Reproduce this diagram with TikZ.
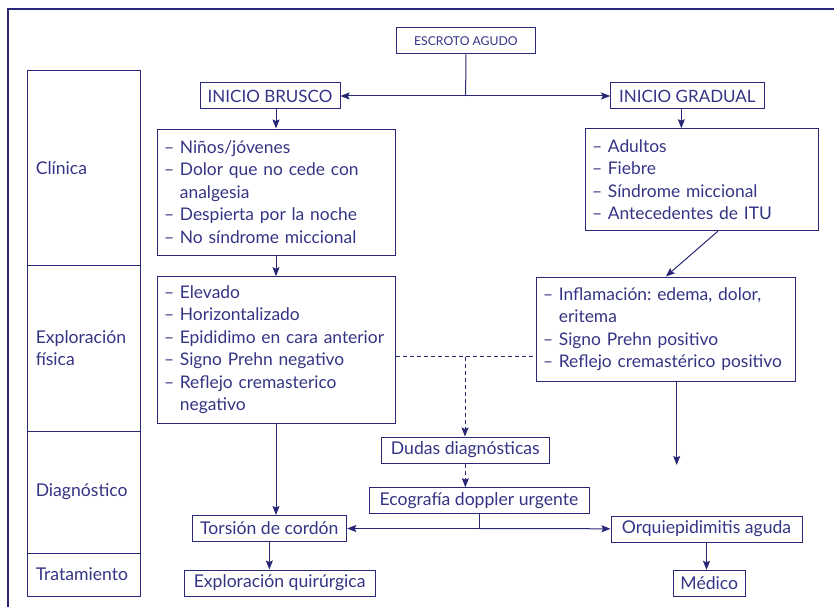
\documentclass[tikz,border=0pt]{standalone}
\usepackage{fontspec}
\setmainfont{Lato}
\usepackage{tikz}
\usetikzlibrary{arrows.meta, calc}
\frenchspacing
\definecolor{mynavy}{RGB}{40,40,118}
\definecolor{mytext}{RGB}{52,52,132}
\tikzset{
  box/.style={rectangle, draw=mynavy, text=mytext, line width=1pt,
    inner sep=0pt, align=center, minimum height=26pt,
    font=\fontsize{17.6}{20}\selectfont},
  bigbox/.style={box, font=\fontsize{17}{22}\selectfont},
  smallbox/.style={box, font=\fontsize{12.2}{15}\selectfont},
  listbox/.style={box, align=left, inner xsep=7pt,
    font=\fontsize{17.4}{22.5}\selectfont},
  rowbox/.style={rectangle, draw=mynavy, text=mytext, line width=1pt,
    minimum width=112.5pt, text width=96pt, inner xsep=8.25pt,
    align=left, font=\fontsize{17.6}{22.5}\selectfont},
  frame/.style={draw=mynavy, line width=2.6pt},
  arrow/.style={-{Stealth[length=9pt, width=7pt, inset=1.5pt]}, line width=1pt, color=mynavy},
  line/.style={line width=1pt, color=mynavy},
  dashline/.style={line, dash pattern=on 4pt off 3pt},
  dasharrow/.style={arrow, dash pattern=on 4pt off 3pt}
}
\newcommand{\hang}{\phantom{– }}
\begin{document}
\begin{tikzpicture}[x=1pt, y=-1pt]
  \useasboundingbox (0,0) rectangle (834,607);
  \draw[frame] (834,9) -- (8,9) -- (8,607);

  % left column
  \node[rowbox, minimum height=194pt] (clinica) at (83.75,168) {Clínica};
  \node[rowbox, minimum height=166pt] (explora) at (83.75,348) {Exploración\\física};
  \node[rowbox, minimum height=122pt] (diagno) at (83.75,492) {Diagnóstico};
  \node[rowbox, minimum height=43pt] (trata) at (83.75,574.5) {Tratamiento};

  % top
  \node[smallbox, minimum width=139.7pt] (escroto) at (465.85,41) {ESCROTO AGUDO};
  \node[bigbox, minimum width=140pt] (brusco) at (270,96) {INICIO BRUSCO};
  \node[bigbox, minimum width=153.3pt] (gradual) at (687.35,96) {INICIO GRADUAL};
  \coordinate (esplit) at (465.7,96);

  % clinica
  \node[listbox, text width=224pt, minimum height=126pt] (clinL) at (276,192)
    {– Niños/jóvenes\\– Dolor que no cede con\\\hang analgesia\\– Despierta por la noche\\– No síndrome miccional};
  \node[listbox, text width=219.7pt, minimum height=102pt] (clinR) at (701.85,179.7)
    {– Adultos\\– Fiebre\\– Síndrome miccional\\– Antecedentes de ITU};

  % exploracion
  \node[listbox, text width=224pt, minimum height=146.3pt] (explL) at (276,349.85)
    {– Elevado\\– Horizontalizado\\– Epididimo en cara anterior\\– Signo Prehn negativo\\– Reflejo cremasterico\\\hang negativo};
  \node[listbox, text width=245.7pt, minimum height=104.7pt] (explR) at (665.85,329.35)
    {– Inflamación: edema, dolor,\\\hang eritema\\– Signo Prehn positivo\\– Reflejo cremastérico positivo};
  \coordinate (dmid) at (465,356.7);
  \coordinate (explRend) at (676.7,465);

  % diagnostico
  \node[box, minimum width=167.3pt] (dudas) at (465.35,450) {Dudas diagnósticas};
  \node[box, minimum width=220pt] (eco) at (479,500.7) {Ecografía doppler urgente};
  \node[box, minimum width=154.7pt] (torsion) at (269.35,528.5) {Torsión de cordón};
  \node[box, minimum width=191pt] (orqui) at (706.5,529) {Orquiepidimitis aguda};
  \coordinate (esplit2) at (eco.south |- torsion.east);

  % tratamiento
  \node[box, minimum width=190.7pt] (quir) at (279.65,583) {Exploración quirúrgica};
  \node[box, minimum width=72pt] (medico) at (709.3,583.3) {Médico};

  \draw[line] (escroto) -- (esplit);
  \draw[arrow] (esplit) -- (brusco);
  \draw[arrow] (esplit) -- (gradual);
  \draw[arrow] (brusco.south -| clinL.north) -- (clinL.north);
  \draw[arrow] ([xshift=-6pt]gradual.south) -- ([xshift=-6pt]gradual.south |- clinR.north);
  \draw[arrow] (clinL) -- (explL);
  \draw[arrow] ([xshift=16pt]clinR.south) -- (explR.north);
  \draw[dashline] (explL.east |- dmid) -- (explR.west |- dmid);
  \draw[dasharrow] (dmid) -- (dmid |- dudas.north);
  \draw[dasharrow] (dudas.south) -- (dudas.south |- eco.north);
  \draw[line] (eco) -- (esplit2);
  \draw[arrow] (esplit2) -- (torsion);
  \draw[arrow] (esplit2) -- (orqui);
  \draw[arrow] (explL.south) -- (explL.south |- torsion.north);
  \draw[arrow] (explR.south -| explRend) -- (explRend);
  \draw[arrow] (torsion.south) -- (torsion.south |- quir.north);
  \draw[arrow] (orqui.south) -- (orqui.south |- medico.north);
\end{tikzpicture}
\end{document}
